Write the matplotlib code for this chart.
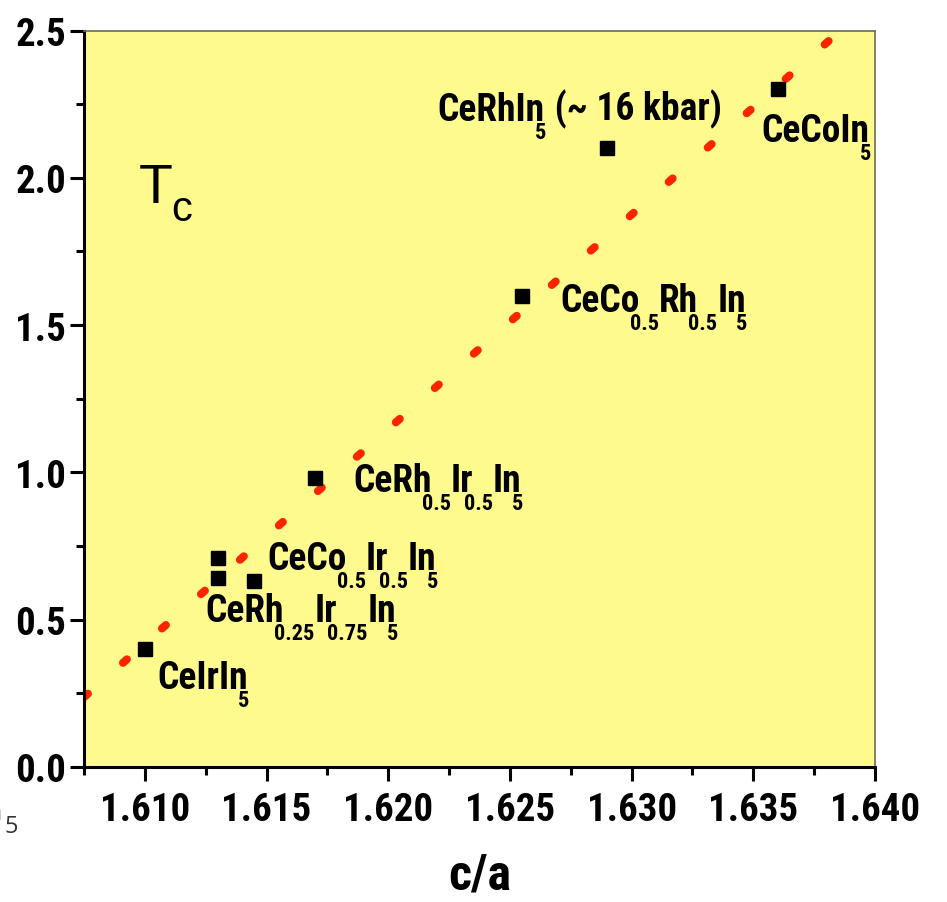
import matplotlib
matplotlib.use("Agg")
import matplotlib.pyplot as plt
from matplotlib import font_manager

# data
sample_names = ["CeIrIn5", "CeCo0.5Ir0.5In5 (a)", "CeRh0.25Ir0.75In5", "CeCo0.5Ir0.5In5 (b)",
                "CeRh0.5Ir0.5In5", "CeCo0.5Rh0.5In5", "CeRhIn5 (16 kbar)", "CeCoIn5"]
c_over_a = [1.6100, 1.6130, 1.6130, 1.6145, 1.6170, 1.6255, 1.6290, 1.6360]
tc = [0.40, 0.71, 0.64, 0.63, 0.98, 1.60, 2.10, 2.30]

# straight guide line (two end points)
guide_x = [1.6075, 1.6382]
guide_y = [0.237, 2.472]

x_ticks = [1.610, 1.615, 1.620, 1.625, 1.630, 1.635, 1.640]
y_ticks = [0.0, 0.5, 1.0, 1.5, 2.0, 2.5]

# labels: (x, y, [(text, is_subscript), ...])
labels = [
    (1.62201, 2.196, [("CeRhIn", False), ("5", True), (" (~ 16 kbar)", False)]),
    (1.63535, 2.125, [("CeCoIn", False), ("5", True)]),
    (1.62706, 1.548, [("CeCo", False), ("0.5", True), ("Rh", False), ("0.5", True), ("In", False), ("5", True)]),
    (1.61856, 0.937, [("CeRh", False), ("0.5", True), ("Ir", False), ("0.5", True), ("In", False), ("5", True)]),
    (1.61503, 0.672, [("CeCo", False), ("0.5", True), ("Ir", False), ("0.5", True), ("In", False), ("5", True)]),
    (1.61248, 0.496, [("CeRh", False), ("0.25", True), ("Ir", False), ("0.75", True), ("In", False), ("5", True)]),
    (1.61051, 0.268, [("CeIrIn", False), ("5", True)]),
]

bold_fonts = {f.name for f in font_manager.fontManager.ttflist if f.weight in (700, "bold")}
bold_family = "DejaVu Sans"
for cand in ["Roboto Condensed", "PT Sans Narrow", "Archivo Narrow"]:
    if cand in bold_fonts:
        bold_family = cand
        break
BOLD = dict(family=bold_family, weight="bold")
if bold_family == "DejaVu Sans":
    BOLD["stretch"] = "condensed"

YELLOW = "#FFFA8E"
RED = "#FF2400"


def chem(ax, x, y, parts, size=27, sub_size=16):
    """write a formula piece by piece, subscripts tucked under the last letter"""
    first = ax.text(x, y, parts[0][0], fontsize=size, va="baseline", ha="left", **BOLD)
    prev = first
    for text, is_sub in parts[1:]:
        if is_sub:
            prev = ax.annotate(text, xy=(1, 0), xycoords=prev, xytext=(-7, 5),
                               textcoords="offset points", va="top", ha="left",
                               fontsize=sub_size, **BOLD)
        else:
            prev = ax.annotate(text, xy=(1, 0), xycoords=(prev, first), xytext=(0, 0),
                               textcoords="offset points", va="bottom", ha="left",
                               fontsize=size, **BOLD)


fig = plt.figure(figsize=(9.47, 9.03), dpi=100)
ax = fig.add_axes([84 / 947, 1 - 768 / 903, 791 / 947, 736.5 / 903])
ax.set_facecolor(YELLOW)

ax.plot(guide_x, guide_y, color=RED, lw=5.8, linestyle=(0, (0.65, 5.8)),
        dash_capstyle="round", zorder=2)
ax.plot(c_over_a, tc, "s", color="black", ms=9.5, zorder=3)

for x, y, parts in labels:
    chem(ax, x, y, parts)

t = ax.text(1.60973, 1.918, "T", fontsize=40, family="Liberation Sans", va="baseline")
ax.annotate("c", xy=(1, 0), xycoords=t, xytext=(-1, -4), textcoords="offset points",
            fontsize=30, family="Liberation Sans", va="baseline")

ax.set_xlim(1.6075, 1.640)
ax.set_ylim(0.0, 2.5)
ax.set_xticks(x_ticks)
ax.set_xticklabels([f"{v:.3f}" for v in x_ticks])
ax.set_yticks(y_ticks)
ax.set_yticklabels([f"{v:.1f}" for v in y_ticks])
ax.set_xticks([v + 0.0025 for v in [1.605] + x_ticks[:-1]], minor=True)
ax.set_yticks([v + 0.25 for v in y_ticks[:-1]], minor=True)

for lab in ax.get_xticklabels() + ax.get_yticklabels():
    lab.set_fontsize(28)
    lab.set_fontfamily(bold_family)
    lab.set_fontweight("bold")

ax.tick_params(which="major", direction="out", length=10, width=2.2, pad=3)
ax.tick_params(axis="x", which="major", pad=7)
ax.tick_params(which="minor", direction="out", length=5.5, width=2.2)
ax.tick_params(top=False, right=False, which="both")

for side in ["left", "bottom"]:
    ax.spines[side].set_linewidth(2.2)
    ax.spines[side].set_color("black")
for side in ["top", "right"]:
    ax.spines[side].set_linewidth(1.2)
    ax.spines[side].set_color("#6b6b5a")

ax.set_xlabel("c/a", fontsize=36, labelpad=17, **BOLD)

# clipped leftover text in the lower left corner
fig.text(-13 / 947, 1 - 820 / 903, "n", fontsize=18, family="Open Sans", color="#333333")
fig.text(4 / 947, 1 - 833 / 903, "5", fontsize=17, family="Open Sans", color="#333333")

fig.savefig("out.png", dpi=100)
